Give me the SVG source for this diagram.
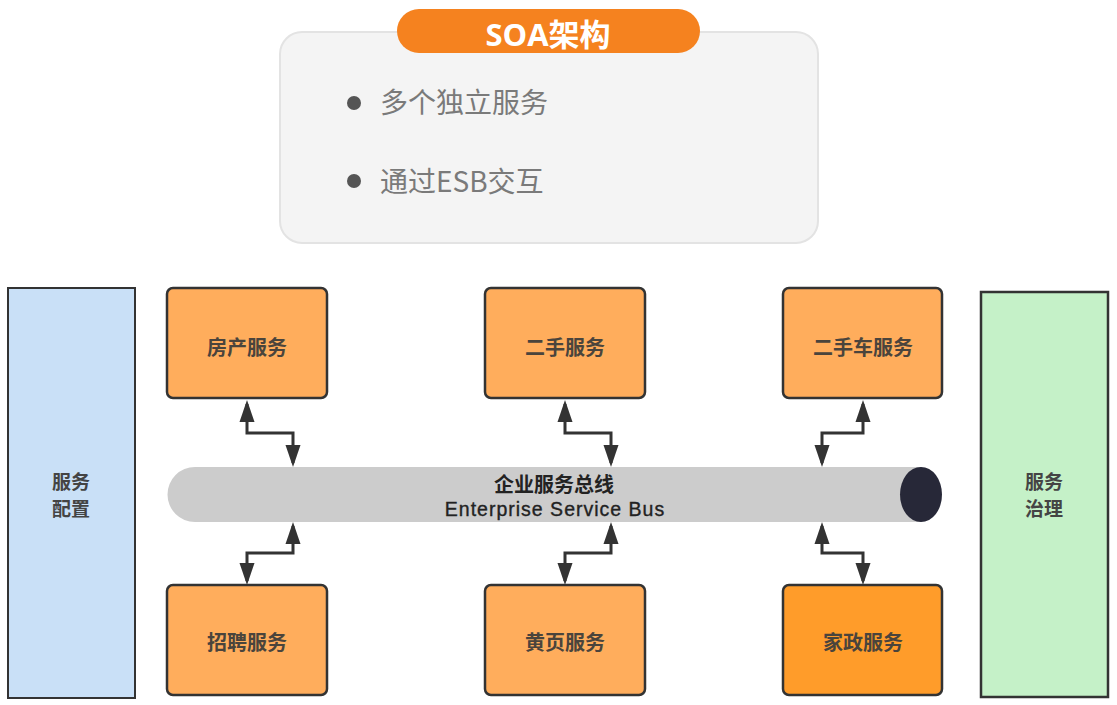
<svg xmlns="http://www.w3.org/2000/svg" width="1117" height="705" viewBox="0 0 1117 705">
<style>
.svc{fill:#ffad5c;stroke:#333;stroke-width:2.5}
.svc2{fill:#ff9c2a;stroke:#333;stroke-width:2.5}
.lbl{font-family:"Noto Sans CJK SC","Liberation Sans",sans-serif;font-size:20px;font-weight:bold;fill:#4a443c;text-anchor:middle}
.side{font-family:"Noto Sans CJK SC","Liberation Sans",sans-serif;font-size:19px;font-weight:bold;fill:#444;text-anchor:middle}
.bul{font-family:"Noto Sans CJK SC","Liberation Sans",sans-serif;font-size:28px;fill:#7a7a7a}
.conn{fill:none;stroke:#333;stroke-width:3}
</style>
<defs>
<marker id="ah" markerUnits="userSpaceOnUse" markerWidth="22" markerHeight="16" refX="18" refY="8" orient="auto-start-reverse">
<path d="M0,0.5 L22,8 L0,15.5 z" fill="#333"/>
</marker>
</defs>
<rect width="1117" height="705" fill="#ffffff"/>
<g id="header">
<rect x="280" y="32" width="538" height="211" rx="22" fill="#f4f4f4" stroke="#e3e3e3" stroke-width="2"/>
<rect x="397" y="9" width="303" height="44" rx="22" fill="#f5821f"/>
<text x="548" y="46" font-family="'Open Sans','Noto Sans CJK SC',sans-serif" font-size="31" font-weight="bold" fill="#ffffff" text-anchor="middle">SOA架构</text>
<circle cx="354" cy="103" r="7" fill="#555"/>
<text x="380" y="113" class="bul">多个独立服务</text>
<circle cx="354" cy="181" r="7" fill="#555"/>
<text x="380" y="192" class="bul">通过ESB交互</text>
</g>
<g id="config">
<rect x="8" y="288" width="127" height="410" fill="#c9e0f7" stroke="#333" stroke-width="2"/>
<text x="71" y="489" class="side">服务</text>
<text x="71" y="516" class="side">配置</text>
</g>
<g id="governance">
<rect x="981" y="292" width="127" height="405" fill="#c5f1c8" stroke="#333" stroke-width="2.5"/>
<text x="1044" y="489" class="side">服务</text>
<text x="1044" y="516" class="side">治理</text>
</g>
<g id="bus">
<path d="M195,467 H921 V522 H195 A27.5,27.5 0 0 1 195,467 z" fill="#cccccc"/>
<ellipse cx="921" cy="494.5" rx="21" ry="27.5" fill="#272838"/>
<text x="554" y="492" font-family="'Noto Sans CJK SC','Liberation Sans',sans-serif" font-size="20" font-weight="bold" fill="#222" text-anchor="middle">企业服务总线</text>
<text x="555" y="516" font-family="'Liberation Sans',Arial,sans-serif" font-size="19.5" letter-spacing="1" fill="#222" stroke="#222" stroke-width="0.35" text-anchor="middle">Enterprise Service Bus</text>
</g>
<g id="svc-fangchan"><rect x="167" y="288" width="160" height="110" rx="6" class="svc"/><text x="247" y="355" class="lbl">房产服务</text></g>
<g id="svc-ershou"><rect x="485" y="288" width="160" height="110" rx="6" class="svc"/><text x="565" y="355" class="lbl">二手服务</text></g>
<g id="svc-ershouche"><rect x="783" y="288" width="159" height="110" rx="6" class="svc"/><text x="863" y="355" class="lbl">二手车服务</text></g>
<g id="svc-zhaopin"><rect x="167" y="585" width="160" height="110" rx="6" class="svc"/><text x="247" y="650" class="lbl">招聘服务</text></g>
<g id="svc-huangye"><rect x="485" y="585" width="160" height="110" rx="6" class="svc"/><text x="565" y="650" class="lbl">黄页服务</text></g>
<g id="svc-jiazheng"><rect x="783" y="585" width="159" height="110" rx="6" class="svc2"/><text x="863" y="650" class="lbl">家政服务</text></g>
<g id="connectors">
<path class="conn" d="M247,404 V433 H293 V463" marker-start="url(#ah)" marker-end="url(#ah)"/>
<path class="conn" d="M565,404 V433 H611 V463" marker-start="url(#ah)" marker-end="url(#ah)"/>
<path class="conn" d="M863,404 V433 H822 V463" marker-start="url(#ah)" marker-end="url(#ah)"/>
<path class="conn" d="M293,526 V553 H247 V581" marker-start="url(#ah)" marker-end="url(#ah)"/>
<path class="conn" d="M611,526 V553 H565 V581" marker-start="url(#ah)" marker-end="url(#ah)"/>
<path class="conn" d="M822,526 V553 H863 V581" marker-start="url(#ah)" marker-end="url(#ah)"/>
</g>
</svg>
